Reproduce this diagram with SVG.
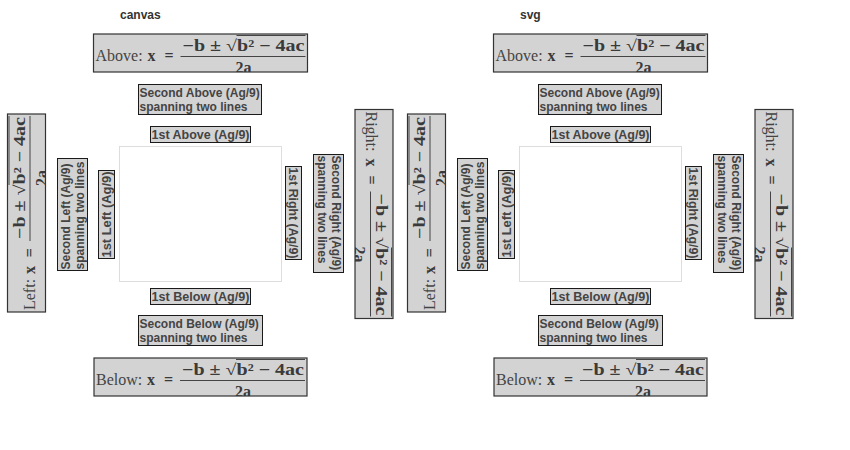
<svg xmlns="http://www.w3.org/2000/svg" width="850" height="450" viewBox="0 0 850 450">
  <defs>
    <style>
      .title{font-family:"Liberation Sans",Arial,sans-serif;font-weight:bold;font-size:12px;fill:#333}
      .plot{fill:#fff;stroke:#ddd;stroke-width:1}
      .lbox{fill:#d3d3d3;stroke:#1a1a1a;stroke-width:1}
      .ltxt{font-family:"Liberation Sans",Arial,sans-serif;font-weight:bold;font-size:12px;fill:#444}
      .fbox{fill:#d3d3d3;stroke:#333;stroke-width:1.2}
      .fl{font-family:"Liberation Serif","Times New Roman",serif;font-size:16px;fill:#444}
      .fm{font-family:"Liberation Serif","Times New Roman",serif;font-size:16px;font-weight:bold;fill:#3a3a3a}
      .bar{stroke:#444;stroke-width:1}
    </style>
    <clipPath id="clip214"><rect width="214" height="38"/></clipPath>
    <clipPath id="clip213"><rect width="213" height="38"/></clipPath>
    <clipPath id="clip198"><rect width="198" height="38"/></clipPath>
    <clipPath id="clip209"><rect width="209" height="38"/></clipPath>
  </defs>

  <!-- ===== left panel: canvas ===== -->
  <g id="panel-canvas">
    <text class="title" x="120" y="19">canvas</text>
    <g id="canvas-plot"><rect class="plot" x="119.5" y="146.5" width="162" height="135"/></g>

    <!-- top titles -->
    <g id="canvas-above1" transform="translate(150.5,126.5)">
      <rect class="lbox" width="100" height="16"/>
      <text class="ltxt" x="1" y="12.5" textLength="98" lengthAdjust="spacingAndGlyphs">1st Above (Ag/9)</text>
    </g>
    <g id="canvas-above2" transform="translate(138.5,84.5)">
      <rect class="lbox" width="123" height="30"/>
      <text class="ltxt" x="1" y="12">Second Above (Ag/9)</text>
      <text class="ltxt" x="1" y="26">spanning two lines</text>
    </g>
    <g id="canvas-above-formula" transform="translate(93.5,34)">
      <rect class="fbox" width="214" height="38"/>
      <g clip-path="url(#clip214)">
        <text class="fl" x="2" y="27">Above:</text>
        <text class="fm" x="54" y="27" textLength="26" lengthAdjust="spacing">x =</text>
        <line class="bar" x1="87" y1="22.5" x2="212" y2="22.5"/>
        <text class="fm" x="89" y="17" textLength="122" lengthAdjust="spacingAndGlyphs">−b ± √b² − 4ac</text>
        <line class="bar" x1="143" y1="1.5" x2="212" y2="1.5"/>
        <text class="fm" x="150" y="39.3" text-anchor="middle">2a</text>
      </g>
    </g>

    <!-- bottom titles -->
    <g id="canvas-below1" transform="translate(150.5,288.5)">
      <rect class="lbox" width="100" height="16"/>
      <text class="ltxt" x="1" y="12.5" textLength="98" lengthAdjust="spacingAndGlyphs">1st Below (Ag/9)</text>
    </g>
    <g id="canvas-below2" transform="translate(138.5,315.5)">
      <rect class="lbox" width="124" height="30"/>
      <text class="ltxt" x="1" y="12">Second Below (Ag/9)</text>
      <text class="ltxt" x="1" y="26">spanning two lines</text>
    </g>
    <g id="canvas-below-formula" transform="translate(94,358)">
      <rect class="fbox" width="213" height="38"/>
      <g clip-path="url(#clip213)">
        <text class="fl" x="2" y="27">Below:</text>
        <text class="fm" x="53" y="27" textLength="26" lengthAdjust="spacing">x =</text>
        <line class="bar" x1="86" y1="22.5" x2="211" y2="22.5"/>
        <text class="fm" x="88" y="17" textLength="122" lengthAdjust="spacingAndGlyphs">−b ± √b² − 4ac</text>
        <line class="bar" x1="142" y1="1.5" x2="211" y2="1.5"/>
        <text class="fm" x="149" y="39.3" text-anchor="middle">2a</text>
      </g>
    </g>

    <!-- left titles (read bottom to top) -->
    <g id="canvas-left1" transform="translate(98.5,258.5) rotate(-90)">
      <rect class="lbox" width="88" height="16"/>
      <text class="ltxt" x="1" y="12.5" textLength="86" lengthAdjust="spacingAndGlyphs">1st Left (Ag/9)</text>
    </g>
    <g id="canvas-left2" transform="translate(57.5,270.5) rotate(-90)">
      <rect class="lbox" width="112" height="30"/>
      <text class="ltxt" x="1" y="12">Second Left (Ag/9)</text>
      <text class="ltxt" x="1" y="26">spanning two lines</text>
    </g>
    <g id="canvas-left-formula" transform="translate(7.5,312) rotate(-90)">
      <rect class="fbox" width="198" height="38"/>
      <g clip-path="url(#clip198)">
        <text class="fl" x="2" y="27">Left:</text>
        <text class="fm" x="38" y="27" textLength="26" lengthAdjust="spacing">x =</text>
        <line class="bar" x1="71" y1="22.5" x2="196" y2="22.5"/>
        <text class="fm" x="73" y="17" textLength="122" lengthAdjust="spacingAndGlyphs">−b ± √b² − 4ac</text>
        <line class="bar" x1="127" y1="1.5" x2="196" y2="1.5"/>
        <text class="fm" x="134" y="39.3" text-anchor="middle">2a</text>
      </g>
    </g>

    <!-- right titles (read top to bottom) -->
    <g id="canvas-right1" transform="translate(301.5,166.5) rotate(90)">
      <rect class="lbox" width="93" height="16"/>
      <text class="ltxt" x="1" y="12.5" textLength="91" lengthAdjust="spacingAndGlyphs">1st Right (Ag/9)</text>
    </g>
    <g id="canvas-right2" transform="translate(343.5,154.5) rotate(90)">
      <rect class="lbox" width="118" height="30"/>
      <text class="ltxt" x="1" y="12">Second Right (Ag/9)</text>
      <text class="ltxt" x="1" y="26">spanning two lines</text>
    </g>
    <g id="canvas-right-formula" transform="translate(393,109.5) rotate(90)">
      <rect class="fbox" width="209" height="38"/>
      <g clip-path="url(#clip209)">
        <text class="fl" x="2" y="27">Right:</text>
        <text class="fm" x="49" y="27" textLength="26" lengthAdjust="spacing">x =</text>
        <line class="bar" x1="82" y1="22.5" x2="207" y2="22.5"/>
        <text class="fm" x="84" y="17" textLength="122" lengthAdjust="spacingAndGlyphs">−b ± √b² − 4ac</text>
        <line class="bar" x1="138" y1="1.5" x2="207" y2="1.5"/>
        <text class="fm" x="145" y="39.3" text-anchor="middle">2a</text>
      </g>
    </g>
  </g>

  <!-- ===== right panel: svg ===== -->
  <g id="panel-svg" transform="translate(400,0)">
    <text class="title" x="120" y="19">svg</text>
    <g id="svg-plot"><rect class="plot" x="119.5" y="146.5" width="162" height="135"/></g>

    <g id="svg-above1" transform="translate(150.5,126.5)">
      <rect class="lbox" width="100" height="16"/>
      <text class="ltxt" x="1" y="12.5" textLength="98" lengthAdjust="spacingAndGlyphs">1st Above (Ag/9)</text>
    </g>
    <g id="svg-above2" transform="translate(138.5,84.5)">
      <rect class="lbox" width="123" height="30"/>
      <text class="ltxt" x="1" y="12">Second Above (Ag/9)</text>
      <text class="ltxt" x="1" y="26">spanning two lines</text>
    </g>
    <g id="svg-above-formula" transform="translate(93.5,34)">
      <rect class="fbox" width="214" height="38"/>
      <g clip-path="url(#clip214)">
        <text class="fl" x="2" y="27">Above:</text>
        <text class="fm" x="54" y="27" textLength="26" lengthAdjust="spacing">x =</text>
        <line class="bar" x1="87" y1="22.5" x2="212" y2="22.5"/>
        <text class="fm" x="89" y="17" textLength="122" lengthAdjust="spacingAndGlyphs">−b ± √b² − 4ac</text>
        <line class="bar" x1="143" y1="1.5" x2="212" y2="1.5"/>
        <text class="fm" x="150" y="39.3" text-anchor="middle">2a</text>
      </g>
    </g>

    <g id="svg-below1" transform="translate(150.5,288.5)">
      <rect class="lbox" width="100" height="16"/>
      <text class="ltxt" x="1" y="12.5" textLength="98" lengthAdjust="spacingAndGlyphs">1st Below (Ag/9)</text>
    </g>
    <g id="svg-below2" transform="translate(138.5,315.5)">
      <rect class="lbox" width="124" height="30"/>
      <text class="ltxt" x="1" y="12">Second Below (Ag/9)</text>
      <text class="ltxt" x="1" y="26">spanning two lines</text>
    </g>
    <g id="svg-below-formula" transform="translate(94,358)">
      <rect class="fbox" width="213" height="38"/>
      <g clip-path="url(#clip213)">
        <text class="fl" x="2" y="27">Below:</text>
        <text class="fm" x="53" y="27" textLength="26" lengthAdjust="spacing">x =</text>
        <line class="bar" x1="86" y1="22.5" x2="211" y2="22.5"/>
        <text class="fm" x="88" y="17" textLength="122" lengthAdjust="spacingAndGlyphs">−b ± √b² − 4ac</text>
        <line class="bar" x1="142" y1="1.5" x2="211" y2="1.5"/>
        <text class="fm" x="149" y="39.3" text-anchor="middle">2a</text>
      </g>
    </g>

    <g id="svg-left1" transform="translate(98.5,258.5) rotate(-90)">
      <rect class="lbox" width="88" height="16"/>
      <text class="ltxt" x="1" y="12.5" textLength="86" lengthAdjust="spacingAndGlyphs">1st Left (Ag/9)</text>
    </g>
    <g id="svg-left2" transform="translate(57.5,270.5) rotate(-90)">
      <rect class="lbox" width="112" height="30"/>
      <text class="ltxt" x="1" y="12">Second Left (Ag/9)</text>
      <text class="ltxt" x="1" y="26">spanning two lines</text>
    </g>
    <g id="svg-left-formula" transform="translate(7.5,312) rotate(-90)">
      <rect class="fbox" width="198" height="38"/>
      <g clip-path="url(#clip198)">
        <text class="fl" x="2" y="27">Left:</text>
        <text class="fm" x="38" y="27" textLength="26" lengthAdjust="spacing">x =</text>
        <line class="bar" x1="71" y1="22.5" x2="196" y2="22.5"/>
        <text class="fm" x="73" y="17" textLength="122" lengthAdjust="spacingAndGlyphs">−b ± √b² − 4ac</text>
        <line class="bar" x1="127" y1="1.5" x2="196" y2="1.5"/>
        <text class="fm" x="134" y="39.3" text-anchor="middle">2a</text>
      </g>
    </g>

    <g id="svg-right1" transform="translate(301.5,166.5) rotate(90)">
      <rect class="lbox" width="93" height="16"/>
      <text class="ltxt" x="1" y="12.5" textLength="91" lengthAdjust="spacingAndGlyphs">1st Right (Ag/9)</text>
    </g>
    <g id="svg-right2" transform="translate(343.5,154.5) rotate(90)">
      <rect class="lbox" width="118" height="30"/>
      <text class="ltxt" x="1" y="12">Second Right (Ag/9)</text>
      <text class="ltxt" x="1" y="26">spanning two lines</text>
    </g>
    <g id="svg-right-formula" transform="translate(393,109.5) rotate(90)">
      <rect class="fbox" width="209" height="38"/>
      <g clip-path="url(#clip209)">
        <text class="fl" x="2" y="27">Right:</text>
        <text class="fm" x="49" y="27" textLength="26" lengthAdjust="spacing">x =</text>
        <line class="bar" x1="82" y1="22.5" x2="207" y2="22.5"/>
        <text class="fm" x="84" y="17" textLength="122" lengthAdjust="spacingAndGlyphs">−b ± √b² − 4ac</text>
        <line class="bar" x1="138" y1="1.5" x2="207" y2="1.5"/>
        <text class="fm" x="145" y="39.3" text-anchor="middle">2a</text>
      </g>
    </g>
  </g>
</svg>
